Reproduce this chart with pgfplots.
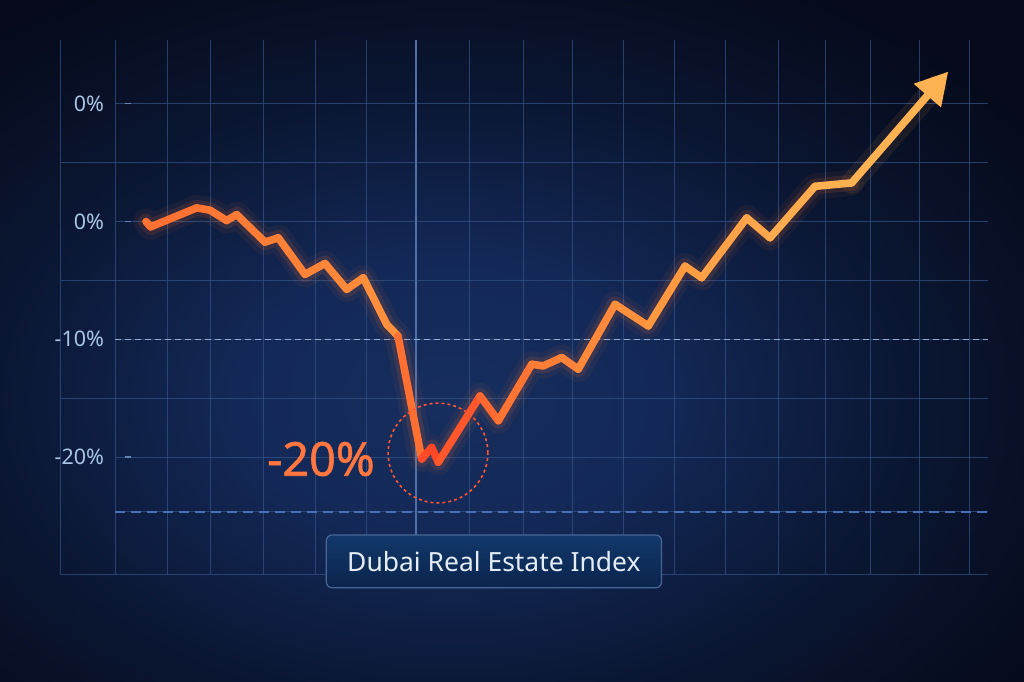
\documentclass[border=0pt]{standalone}
\usepackage{fontspec}
\setmainfont{Noto Sans}
\newfontfamily\labfont[FakeBold=1.2]{Noto Sans}
\usepackage{pgfplots}
\usepackage{pgfplotstable}
\pgfplotsset{compat=1.18}
\usetikzlibrary{arrows.meta}
\usepgfplotslibrary{colormaps}

\definecolor{bgA}{RGB}{22,46,94}
\definecolor{bgB}{RGB}{19,40,86}
\definecolor{bgC}{RGB}{10,22,50}
\definecolor{bgD}{RGB}{6,10,26}
\pgfdeclareradialshading{bgglow}{\pgfpoint{0bp}{0bp}}{color(0bp)=(bgA); color(7.5bp)=(bgB); color(16bp)=(bgC); color(25bp)=(bgD); color(50bp)=(bgD)}
\definecolor{gridc}{RGB}{52,84,136}
\definecolor{gridb}{RGB}{78,112,168}
\definecolor{tickc}{RGB}{170,196,228}
\definecolor{tickm}{RGB}{100,130,178}
\definecolor{dashw}{RGB}{150,170,205}
\definecolor{dashb}{RGB}{72,112,178}
\definecolor{glowc}{RGB}{255,120,50}
\definecolor{arrowc}{RGB}{255,178,82}
\definecolor{labc}{RGB}{255,118,64}
\definecolor{circc}{RGB}{255,85,50}
\definecolor{boxtop}{RGB}{18,56,106}
\definecolor{boxbot}{RGB}{10,36,76}
\definecolor{boxdraw}{RGB}{72,102,148}
\definecolor{boxtext}{RGB}{228,236,246}

\pgfplotstableread{
x y c
0.608 0.00 0.35
0.700 -0.45 0.35
1.602 1.16 0.35
1.863 0.96 0.38
2.190 0.08 0.40
2.386 0.59 0.42
2.941 -1.75 0.45
3.202 -1.38 0.47
3.725 -4.49 0.50
4.118 -3.56 0.52
4.543 -5.76 0.55
4.869 -4.77 0.58
5.327 -8.73 0.62
5.549 -9.72 0.60
6.014 -20.17 0.05
6.210 -19.18 0.02
6.339 -20.45 0.00
7.157 -14.81 0.25
7.516 -16.92 0.30
8.171 -12.12 0.42
8.398 -12.26 0.45
8.759 -11.55 0.48
9.084 -12.54 0.50
9.804 -7.03 0.60
10.457 -8.87 0.65
11.176 -3.79 0.72
11.504 -4.77 0.75
12.386 0.31 0.82
12.843 -1.38 0.85
13.725 2.99 0.92
14.445 3.28 0.95
}\lineA

\begin{document}
\begin{tikzpicture}
\begin{axis}[
  set layers,
  scale only axis,
  width=437.5bp, height=268bp,
  xmin=0, xmax=17.12, ymin=-30, ymax=15.42,
  clip=false,
  axis line style={draw=none},
  xtick={0,1.02,1.88,2.92,3.94,4.94,5.90,6.96,8.0,8.98,9.98,10.98,11.98,13.0,13.94,14.82,15.78,16.75},
  xticklabels={},
  xtick style={draw=none},
  ytick={-20,-10,0,10},
  yticklabels={-20\%,-10\%,0\%,0\%},
  minor ytick={-30,-24.66,-15,-5,5},
  xmajorgrids, ymajorgrids, yminorgrids,
  grid style={draw=gridc, line width=0.5bp, opacity=0.7},
  minor grid style={draw=gridc, line width=0.5bp, opacity=0.7},
  ytick pos=left,
  tick align=inside,
  major tick length=3bp,
  minor tick length=0pt,
  ytick style={draw=tickm, line width=0.7bp, xshift=5bp},
  yticklabel style={font=\fontsize{10.8}{12}\selectfont, text=tickc, xshift=-2bp},
  colormap={glow}{rgb255=(255,70,40) rgb255=(255,112,50) rgb255=(255,150,62) rgb255=(255,182,86)},
  point meta min=0, point meta max=1,
]
\begin{pgfonlayer}{axis background}
\begin{scope}
\clip (axis cs:-2.2549,-39.0678) rectangle (axis cs:17.8235,18.8136);
\shade[shading=bgglow] (axis cs:-7.549,-55.76) rectangle (axis cs:20.687,25.60);
\end{scope}
\end{pgfonlayer}
\coordinate (bbSW) at (axis cs:-2.2549,-39.0678);
\coordinate (bbNE) at (axis cs:17.8235,18.8136);

% extra grid pieces
\draw[gridc, line width=0.5bp, opacity=0.7] (axis cs:-1.06,-30) -- (axis cs:-1.06,15.42);
\draw[gridc, line width=0.5bp, opacity=0.7] (axis cs:-1.06,5) -- (axis cs:0,5);
\draw[gridc, line width=0.5bp, opacity=0.7] (axis cs:-1.06,-5) -- (axis cs:0,-5);
\draw[gridc, line width=0.5bp, opacity=0.7] (axis cs:-1.06,-15) -- (axis cs:0,-15);
\draw[gridc, line width=0.5bp, opacity=0.7] (axis cs:-1.06,-30) -- (axis cs:0,-30);
\draw[gridb, line width=0.7bp] (axis cs:5.90,-30) -- (axis cs:5.90,15.42);
\draw[dashw, line width=0.6bp, dash pattern=on 3bp off 2bp] (axis cs:0,-10) -- (axis cs:17.12,-10);
\draw[dashb, line width=1bp, dash pattern=on 5bp off 3bp] (axis cs:0,-24.66) -- (axis cs:17.12,-24.66);

% glow
\addplot[no marks, draw=glowc, opacity=0.06, line width=13bp, line join=round, line cap=round] table[x=x,y=y] {\lineA};
\addplot[no marks, draw=glowc, opacity=0.12, line width=8bp, line join=round, line cap=round] table[x=x,y=y] {\lineA};
\addplot[no marks, draw=arrowc, opacity=0.08, line width=11bp, line cap=round] coordinates {(14.445,3.28) (16.10,11.5)};

% main line
\addplot[mesh, point meta=explicit, line width=3.8bp, line join=round, line cap=round, no marks] table[x=x,y=y,meta=c] {\lineA};
\addplot[no marks, draw=arrowc, line width=3.8bp, line cap=round, -{Triangle[length=16bp,width=17bp]}] coordinates {(14.445,3.28) (16.339,12.74)};

% annotation
\node[circle, draw=circc, line width=0.8bp, dash pattern=on 1.5bp off 1.5bp, minimum size=50bp, inner sep=0pt] at (axis cs:6.333,-19.66) {};
\node[font=\labfont\fontsize{23.5}{28}\selectfont, text=labc] at (axis cs:4.04,-20.17) {-20\%};
\node[draw=boxdraw, line width=0.6bp, rounded corners=3bp, top color=boxtop, bottom color=boxbot, minimum width=168bp, minimum height=26.5bp, text=boxtext, font=\fontsize{13.3}{16}\selectfont] at (axis cs:7.43,-28.86) {Dubai Real Estate Index};
\end{axis}
\pgfresetboundingbox
\path (bbSW) rectangle (bbNE);
\end{tikzpicture}
\end{document}
